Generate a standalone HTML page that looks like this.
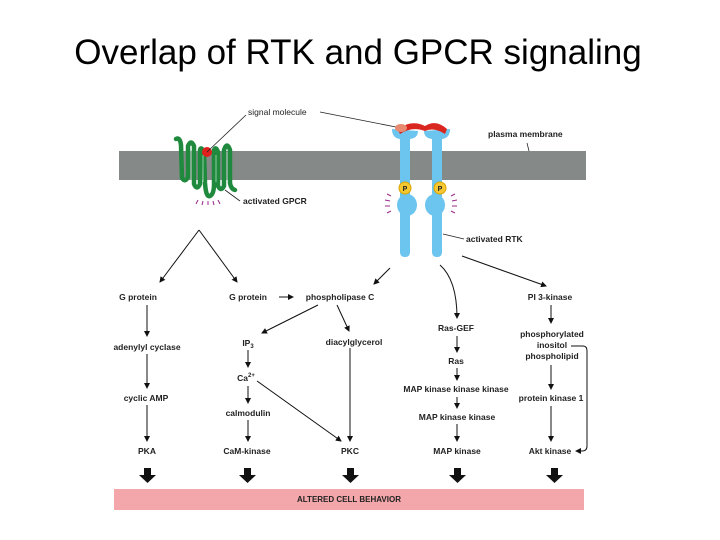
<!DOCTYPE html>
<html><head><meta charset="utf-8"><style>
html,body{margin:0;padding:0;background:#fff;}
svg{display:block;}
.t{font-family:"Liberation Sans",sans-serif;font-size:8.5px;font-weight:bold;fill:#222;text-anchor:middle;}
</style></head><body>
<svg width="720" height="540" viewBox="0 0 720 540" xmlns="http://www.w3.org/2000/svg">
<defs>
<marker id="a" markerWidth="6" markerHeight="6" refX="5" refY="3" orient="auto" markerUnits="userSpaceOnUse"><path d="M0,0 L6,3 L0,6 z" fill="#111"/></marker>
</defs>
<text x="358" y="64" font-family="'Liberation Sans',sans-serif" font-size="35" text-anchor="middle" fill="#000">Overlap of RTK and GPCR signaling</text>
<!-- membrane -->
<rect x="119" y="151" width="467" height="29" fill="#858a88"/>
<!-- GPCR -->
<g fill="none" stroke="#1f8a3e" stroke-width="4.5" stroke-linecap="round" stroke-linejoin="round">
<path d="M176,139 Q180,137 181,145 L182,178 Q185,183 188,177 L188,146 Q191,139 194,146 L194,184 Q197,191 200,184 L200,150 Q201,146 204,152 L205,183 Q206,198 210,196 Q214,194 214,184 L214,150 Q216,146 218,152 L218,186 Q221,192 224,186 L224,150 Q227,141 230,150 L230,183 Q231,189 235,190"/>
</g>
<g stroke="#bfe8c8" stroke-width="0.7" fill="none"><path d="M191,150 L191,180 M203,155 L203,182 M216,155 L216,182 M227,152 L227,180"/></g>
<circle cx="207" cy="152" r="5" fill="#e0201c"/>
<g stroke="#9b2a8a" stroke-width="1"><line x1="198" y1="200" x2="196" y2="204"/><line x1="203" y1="201" x2="202" y2="205"/><line x1="208" y1="201" x2="208" y2="205"/><line x1="213" y1="201" x2="214" y2="205"/><line x1="218" y1="200" x2="220" y2="204"/></g>
<line x1="207" y1="152" x2="246" y2="115" stroke="#222" stroke-width="0.8"/>
<text x="248" y="115" class="t" style="text-anchor:start;font-weight:normal">signal molecule</text>
<line x1="320" y1="112" x2="396" y2="127" stroke="#222" stroke-width="0.8"/>
<line x1="225" y1="190" x2="240" y2="201" stroke="#222" stroke-width="0.8"/>
<text x="243" y="204" class="t" style="text-anchor:start">activated GPCR</text>
<text x="488" y="137" class="t" style="text-anchor:start">plasma membrane</text>
<line x1="527" y1="143" x2="529" y2="151" stroke="#222" stroke-width="0.8"/>
<!-- RTK -->
<g fill="#6cc5ef">
<path d="M392,129 Q392,138 400,139 L400,252 Q400,257 405,257 Q410,257 410,252 L410,139 Q418,138 418,131 Z"/>
<path d="M424,131 Q424,138 432,139 L432,252 Q432,257 437,257 Q442,257 442,252 L442,139 Q450,138 450,129 Z"/>
<ellipse cx="407" cy="205" rx="10" ry="11"/>
<ellipse cx="435" cy="205" rx="10" ry="11"/>
</g>
<path d="M398,130 Q410,119 425,126 Q436,119 447,129 L445,134 Q434,127 425,131 Q412,126 400,134 Z" fill="#d9261f"/>
<ellipse cx="401" cy="128" rx="6" ry="4" fill="#e88a70"/>
<circle cx="405" cy="188" r="6" fill="#f5c832" stroke="#d9a400"/>
<circle cx="440" cy="188" r="6" fill="#f5c832" stroke="#d9a400"/>
<text x="405" y="191" class="t" style="font-size:7px">P</text>
<text x="440" y="191" class="t" style="font-size:7px">P</text>
<g stroke="#9b2a8a" stroke-width="1"><line x1="391" y1="196" x2="387" y2="194"/><line x1="390" y1="201" x2="385" y2="200"/><line x1="390" y1="206" x2="385" y2="206"/><line x1="391" y1="211" x2="387" y2="213"/><line x1="451" y1="196" x2="455" y2="194"/><line x1="452" y1="201" x2="457" y2="200"/><line x1="452" y1="206" x2="457" y2="206"/><line x1="451" y1="211" x2="455" y2="213"/></g>
<line x1="443" y1="234" x2="464" y2="239" stroke="#222" stroke-width="0.8"/>
<text x="466" y="242" class="t" style="text-anchor:start">activated RTK</text>
<!-- arrows -->
<g stroke="#111" stroke-width="1" fill="none" marker-end="url(#a)">
<path d="M199,230 L160,282"/><path d="M199,230 L237,282"/>
<path d="M279,297 L293,297"/>
<path d="M390,268 L374,284"/>
<path d="M440,265 Q457,280 457,318"/>
<path d="M462,256 L546,286"/>
<path d="M147,305 L147,336"/><path d="M147,354 L147,388"/><path d="M147,405 L147,441"/>
<path d="M318,305 L262,333"/><path d="M337,305 L349,331"/>
<path d="M248,350 L248,367"/><path d="M248,386 L248,403"/><path d="M248,420 L248,441"/>
<path d="M257,381 L341,441"/>
<path d="M350,348 L350,441"/>
<path d="M457,336 L457,352"/><path d="M457,368 L457,380"/><path d="M457,397 L457,408"/><path d="M457,424 L457,441"/>
<path d="M551,305 L551,323"/><path d="M551,365 L551,389"/><path d="M551,406 L551,441"/>
<path d="M571,346 L583,346 Q587,346 587,351 L587,446 Q587,451 582,451 L576,451"/>
</g>
<!-- labels -->
<text x="138" y="300" class="t">G protein</text>
<text x="248" y="300" class="t">G protein</text>
<text x="340" y="300" class="t">phospholipase C</text>
<text x="550" y="300" class="t">PI 3-kinase</text>
<text x="147" y="350" class="t">adenylyl cyclase</text>
<text x="248" y="346" class="t">IP<tspan font-size="6" dy="2">3</tspan></text>
<text x="354" y="345" class="t">diacylglycerol</text>
<text x="456" y="331" class="t">Ras-GEF</text>
<text x="456" y="364" class="t">Ras</text>
<text x="552" y="337" class="t">phosphorylated</text>
<text x="552" y="348" class="t">inositol</text>
<text x="552" y="359" class="t">phospholipid</text>
<text x="246" y="381" class="t">Ca<tspan font-size="6" dy="-4">2+</tspan></text>
<text x="456" y="392" class="t">MAP kinase kinase kinase</text>
<text x="146" y="401" class="t">cyclic AMP</text>
<text x="551" y="401" class="t">protein kinase 1</text>
<text x="248" y="416" class="t">calmodulin</text>
<text x="457" y="420" class="t">MAP kinase kinase</text>
<text x="147" y="454" class="t">PKA</text>
<text x="247" y="454" class="t">CaM-kinase</text>
<text x="350" y="454" class="t">PKC</text>
<text x="457" y="454" class="t">MAP kinase</text>
<text x="550" y="454" class="t">Akt kinase</text>
<!-- thick arrows -->
<g fill="#111">
<path d="M144,468 h7 v7 h5 l-8.5,8 l-8.5,-8 h5 z"/>
<path d="M244,468 h7 v7 h5 l-8.5,8 l-8.5,-8 h5 z"/>
<path d="M347,468 h7 v7 h5 l-8.5,8 l-8.5,-8 h5 z"/>
<path d="M454,468 h7 v7 h5 l-8.5,8 l-8.5,-8 h5 z"/>
<path d="M551,468 h7 v7 h5 l-8.5,8 l-8.5,-8 h5 z"/>
</g>
<rect x="114" y="489" width="470" height="21" fill="#f4a7aa"/>
<text x="349" y="502" class="t" style="font-size:8px">ALTERED CELL BEHAVIOR</text>
</svg>
</body></html>
